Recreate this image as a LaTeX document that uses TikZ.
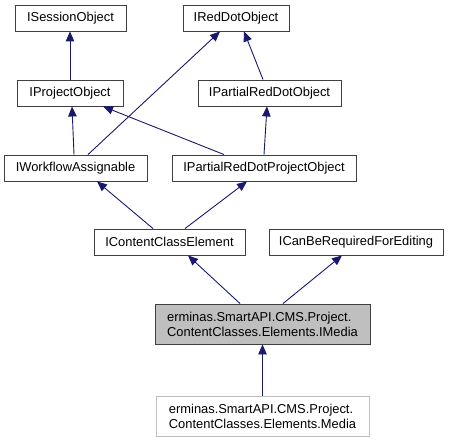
\documentclass[tikz,border=0pt]{standalone}
\usepackage{fontspec}
\setmainfont{Liberation Sans}
\usetikzlibrary{arrows.meta}
\definecolor{edgeblue}{HTML}{191970}
\definecolor{boxgray}{HTML}{BFBFBF}

\begin{document}
\begin{tikzpicture}[x=1pt, y=-1pt,
    cls/.style={draw=black!75, line width=0.9pt, inner sep=0pt, minimum height=26pt,
                font=\fontsize{12.9pt}{15pt}\selectfont},
    big/.style={cls, minimum height=40pt, align=left},
    inh/.style={draw=edgeblue, line width=0.9pt, -{Triangle[length=10pt,width=8.5pt]}}]
  \useasboundingbox (0, 0) rectangle (449, 443);
  \node[cls, minimum width=111pt] (sess) at (70.5, 18)  {ISessionObject};
  \node[cls, minimum width=106pt] (red)  at (236, 18)   {IRedDotObject};
  \node[cls, minimum width=106pt] (proj) at (70, 93)    {IProjectObject};
  \node[cls, minimum width=143pt] (prd)  at (269.5, 93) {IPartialRedDotObject};
  \node[cls, minimum width=143pt] (wf)   at (75.5, 168) {IWorkflowAssignable};
  \node[cls, minimum width=184pt] (prdp) at (264, 168)  {IPartialRedDotProjectObject};
  \node[cls, minimum width=151pt] (cce)  at (169.5, 242) {IContentClassElement};
  \node[cls, minimum width=174pt] (req)  at (356, 242)  {ICanBeRequiredForEditing};
  \node[big, fill=boxgray, minimum width=215pt] (imedia) at (262.5, 324)
    {erminas.SmartAPI.CMS.Project.\\ContentClasses.Elements.IMedia};
  \node[big, draw=boxgray, minimum width=213pt] (media) at (262.5, 416)
    {erminas.SmartAPI.CMS.Project.\\ContentClasses.Elements.Media};
  \draw[inh] (proj.north) -- (proj.north |- sess.south);
  \draw[inh] ([xshift=-1.5pt]wf.north) -- ([xshift=2pt]proj.south);
  \draw[inh] ([xshift=12.5pt]wf.north) -- ([xshift=-16pt]red.south);
  \draw[inh] ([xshift=-6.5pt]prd.north) -- ([xshift=8pt]red.south);
  \draw[inh] ([xshift=-40pt]prdp.north) -- ([xshift=33pt]proj.south);
  \draw[inh] (prdp.north) -- ([xshift=-2.5pt]prd.south);
  \draw[inh] ([xshift=-16.5pt]cce.north) -- ([xshift=21.5pt]wf.south);
  \draw[inh] ([xshift=15.5pt]cce.north) -- ([xshift=-17pt]prdp.south);
  \draw[inh] ([xshift=-22.5pt]imedia.north) -- ([xshift=18.5pt]cce.south);
  \draw[inh] ([xshift=20.5pt]imedia.north) -- ([xshift=-14pt]req.south);
  \draw[inh] (media.north) -- (imedia.south);
\end{tikzpicture}
\end{document}
